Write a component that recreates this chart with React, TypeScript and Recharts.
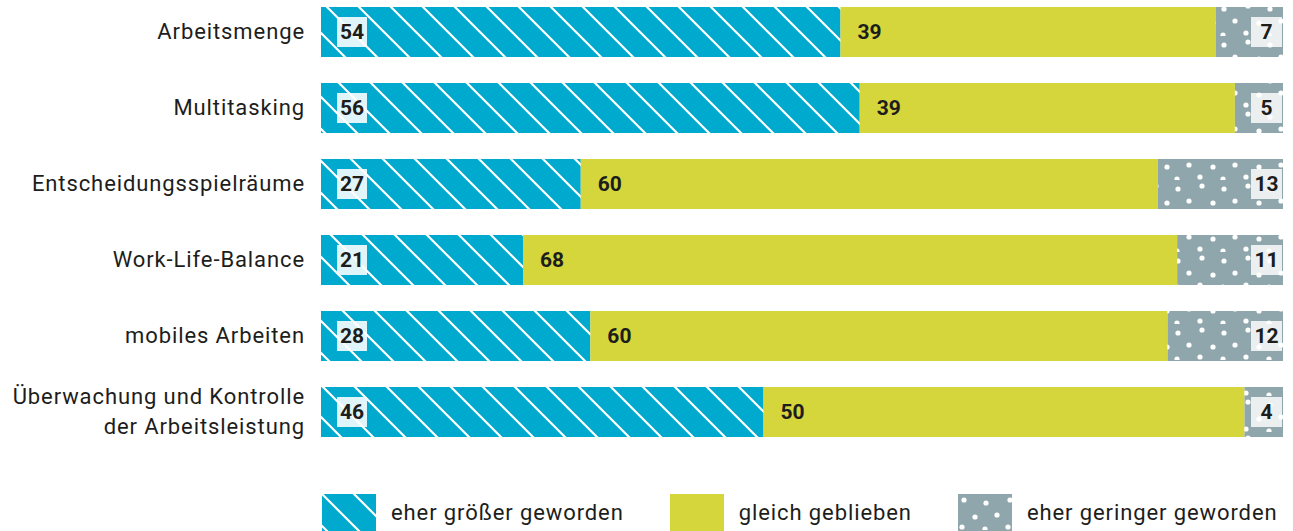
import React from "react";
import { BarChart, Bar, XAxis, YAxis, LabelList, Legend } from "recharts";

const categories = [
  "Arbeitsmenge",
  "Multitasking",
  "Entscheidungsspielräume",
  "Work-Life-Balance",
  "mobiles Arbeiten",
  "Überwachung und Kontrolle\nder Arbeitsleistung",
];
const groesser = [54, 56, 27, 21, 28, 46];
const gleich = [39, 39, 60, 68, 60, 50];
const geringer = [7, 5, 13, 11, 12, 4];
const seriesNames = ["eher größer geworden", "gleich geblieben", "eher geringer geworden"];

const data = categories.map((name, i) => ({
  name,
  groesser: groesser[i],
  gleich: gleich[i],
  geringer: geringer[i],
}));

const FONT = "Roboto, 'Noto Sans', sans-serif";
const TEXT = "#1d1d1b";
const BLUE = "#00a9ce";
const YELLOW = "#d4d63b";
const GREY = "#8fa6ac";

function Patterns({ prefix }: { prefix: string }) {
  return (
    <defs>
      <pattern id={`${prefix}-stripes`} patternUnits="userSpaceOnUse" width="32" height="32">
        <rect width="32" height="32" fill={BLUE} />
        <path d="M-8,-8 L40,40 M-8,24 L8,40 M24,-8 L40,8" stroke="#fff" strokeWidth="2.2" />
      </pattern>
      <pattern id={`${prefix}-dots`} patternUnits="userSpaceOnUse" width="46" height="36">
        <rect width="46" height="36" fill={GREY} />
        {[
          [6, 6], [28, 9], [17, 23], [39, 21], [4, 33], [27, 35],
        ].map(([cx, cy], i) => (
          <circle key={i} cx={cx} cy={cy} r="2.6" fill="#fff" />
        ))}
      </pattern>
    </defs>
  );
}

const YTick = (props: any) => {
  const { x, y, payload } = props;
  const lines = String(payload.value).split("\n");
  const start = -((lines.length - 1) * 30) / 2;
  return (
    <text x={x} y={y} textAnchor="end" fill={TEXT} fontSize={22} fontFamily={FONT} letterSpacing={0.9}>
      {lines.map((l, i) => (
        <tspan key={i} x={x} dy={i === 0 ? start + 7 : 30}>
          {l}
        </tspan>
      ))}
    </text>
  );
};

const FirstLabel = (props: any) => {
  const { x, y, height, value } = props;
  const bx = x + 16;
  const cy = y + height / 2;
  return (
    <g>
      <rect x={bx} y={cy - 15} width={30} height={30} fill="rgba(255,255,255,0.88)" />
      <text x={bx + 15} y={cy + 7} textAnchor="middle" fontSize={21} fontWeight={700} fill={TEXT} fontFamily={FONT}>
        {value}
      </text>
    </g>
  );
};

const MidLabel = (props: any) => {
  const { x, y, height, value } = props;
  return (
    <text x={x + 17} y={y + height / 2 + 7} fontSize={21} fontWeight={700} fill={TEXT} fontFamily={FONT}>
      {value}
    </text>
  );
};

const LastLabel = (props: any) => {
  const { x, y, width, height, value } = props;
  const right = x + width - 1;
  const cy = y + height / 2;
  return (
    <g>
      <rect x={right - 31} y={cy - 15} width={31} height={30} fill="rgba(255,255,255,0.82)" />
      <text x={right - 15.5} y={cy + 7} textAnchor="middle" fontSize={21} fontWeight={700} fill={TEXT} fontFamily={FONT}>
        {value}
      </text>
    </g>
  );
};

const swatchFills = ["url(#lg-stripes)", YELLOW, "url(#lg-dots)"];

const LegendContent = () => (
  <div
    style={{
      display: "flex",
      flexWrap: "nowrap",
      alignItems: "center",
      marginLeft: 322,
      height: 37,
      fontFamily: FONT,
      whiteSpace: "nowrap",
    }}
  >
    {seriesNames.map((n, i) => (
      <div key={n} style={{ display: "flex", alignItems: "center", marginRight: 46, flexShrink: 0 }}>
        <svg width={54} height={37} style={{ display: "block" }}>
          {i === 0 && <Patterns prefix="lg" />}
          <rect width={54} height={37} fill={swatchFills[i]} />
        </svg>
        <span style={{ marginLeft: 15, fontSize: 22, letterSpacing: 0.9, color: TEXT }}>{n}</span>
      </div>
    ))}
  </div>
);

export default function App() {
  return (
    <div style={{ position: "absolute", left: 0, top: 0 }}>
      <BarChart
        width={1293}
        height={531}
        data={data}
        layout="vertical"
        margin={{ top: -6, right: 10, bottom: 44, left: 0 }}
        barSize={50}
      >
        <Patterns prefix="ch" />
        <XAxis type="number" domain={[0, 100]} hide />
        <YAxis
          type="category"
          dataKey="name"
          width={321}
          axisLine={false}
          tickLine={false}
          tickSize={0}
          tickMargin={16}
          tick={<YTick />}
          interval={0}
        />
        <Legend
          verticalAlign="bottom"
          content={<LegendContent />}
          wrapperStyle={{ left: 0, bottom: 0, width: 1293, height: 37 }}
        />
        <Bar dataKey="groesser" name={seriesNames[0]} stackId="a" fill="url(#ch-stripes)" isAnimationActive={false}>
          <LabelList dataKey="groesser" content={<FirstLabel />} />
        </Bar>
        <Bar dataKey="gleich" name={seriesNames[1]} stackId="a" fill={YELLOW} isAnimationActive={false}>
          <LabelList dataKey="gleich" content={<MidLabel />} />
        </Bar>
        <Bar dataKey="geringer" name={seriesNames[2]} stackId="a" fill="url(#ch-dots)" isAnimationActive={false}>
          <LabelList dataKey="geringer" content={<LastLabel />} />
        </Bar>
      </BarChart>
    </div>
  );
}
